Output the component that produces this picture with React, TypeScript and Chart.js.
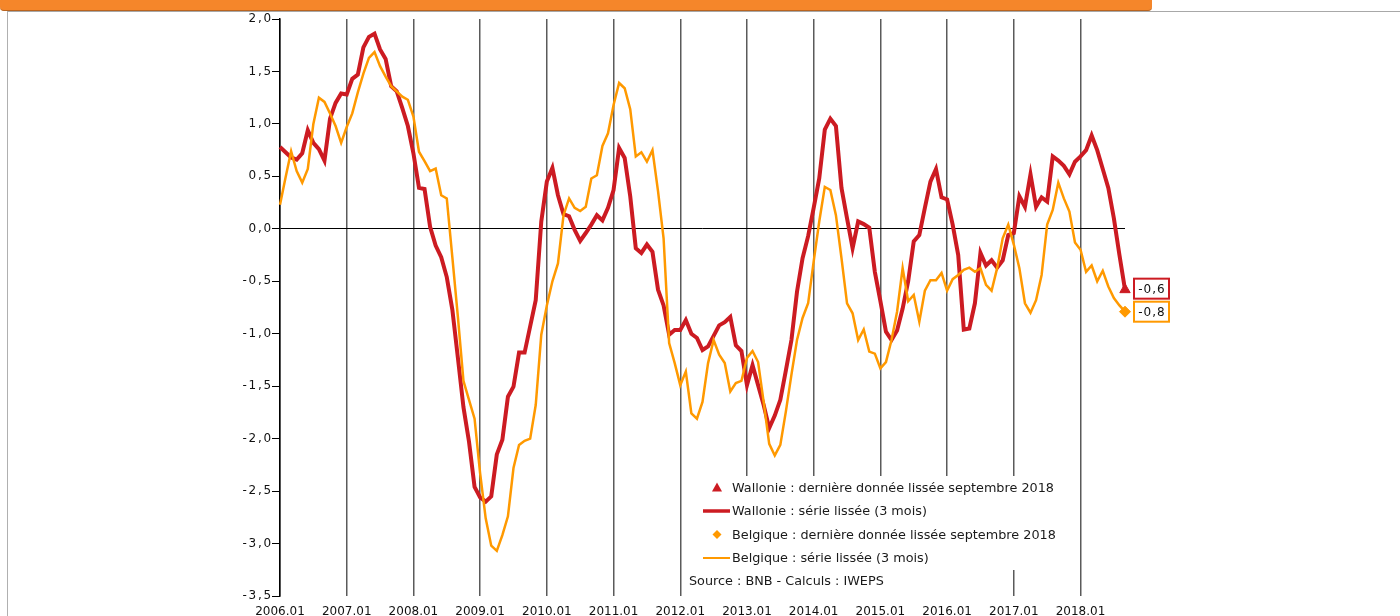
import React, { useEffect, useRef } from "react";
import { Chart, registerables } from "chart.js";

Chart.register(...registerables);

const wallonie: number[] = [
  0.78, 0.73, 0.68, 0.66, 0.72, 0.94, 0.82, 0.76, 0.65, 1.05,
  1.2, 1.29, 1.28, 1.43, 1.47, 1.73, 1.83, 1.86, 1.71, 1.62,
  1.36, 1.31, 1.15, 0.98, 0.72, 0.39, 0.38, 0.02, -0.16, -0.27,
  -0.46, -0.77, -1.23, -1.7, -2.03, -2.46, -2.56, -2.6, -2.55, -2.15,
  -2.01, -1.6, -1.505, -1.18, -1.18, -0.93, -0.68, 0.07, 0.45, 0.58,
  0.32, 0.14, 0.12, -0.01, -0.115, -0.04, 0.04, 0.13, 0.08, 0.2,
  0.37, 0.77, 0.675, 0.31, -0.185, -0.23, -0.15, -0.22, -0.58, -0.73,
  -1.01, -0.965, -0.965, -0.87, -1.0, -1.04, -1.155, -1.12, -1.02, -0.92,
  -0.89, -0.84, -1.11, -1.165, -1.49, -1.3, -1.49, -1.68, -1.9, -1.78,
  -1.63, -1.35, -1.06, -0.6, -0.28, -0.07, 0.2, 0.48, 0.945, 1.05,
  0.98, 0.39, 0.1, -0.185, 0.07, 0.045, 0.01, -0.41, -0.69, -0.98,
  -1.06, -0.97, -0.76, -0.5, -0.12, -0.06, 0.2, 0.45, 0.57, 0.3,
  0.28, 0.04, -0.25, -0.96, -0.95, -0.71, -0.23, -0.35, -0.3, -0.37,
  -0.3, -0.06, -0.04, 0.31, 0.21, 0.52, 0.21, 0.3, 0.26, 0.69,
  0.65, 0.6, 0.52, 0.64, 0.69, 0.75, 0.89, 0.75, 0.57, 0.39,
  0.1, -0.25, -0.58,
];

const belgique: number[] = [
  0.23, 0.49, 0.74, 0.55, 0.44, 0.57, 1.0, 1.25, 1.21, 1.1,
  0.98, 0.82, 0.97, 1.1, 1.3, 1.48, 1.63, 1.685, 1.55, 1.45,
  1.36, 1.31, 1.26, 1.23, 1.07, 0.735, 0.645, 0.55, 0.575, 0.32,
  0.29, -0.27, -0.84, -1.45, -1.63, -1.81, -2.33, -2.76, -3.02, -3.07,
  -2.92, -2.74, -2.28, -2.06, -2.02, -2.0, -1.68, -1.01, -0.73, -0.5,
  -0.33, 0.13, 0.29, 0.2, 0.17, 0.21, 0.48, 0.51, 0.79, 0.91,
  1.18, 1.39, 1.34, 1.14, 0.69, 0.73, 0.64, 0.75, 0.36, -0.09,
  -1.09, -1.28, -1.49, -1.36, -1.76, -1.81, -1.65, -1.28, -1.06, -1.2,
  -1.28, -1.55, -1.47, -1.45, -1.23, -1.165, -1.27, -1.65, -2.05, -2.16,
  -2.06, -1.74, -1.39, -1.06, -0.85, -0.71, -0.31, 0.07, 0.4, 0.37,
  0.13, -0.28, -0.71, -0.805, -1.06, -0.96, -1.17, -1.19, -1.33, -1.27,
  -1.06, -0.79, -0.375, -0.69, -0.63, -0.885, -0.59, -0.49, -0.49, -0.42,
  -0.59, -0.48, -0.44, -0.39, -0.37, -0.41, -0.375, -0.535, -0.59, -0.375,
  -0.09, 0.04, -0.15, -0.375, -0.71, -0.8, -0.68, -0.44, 0.04, 0.18,
  0.44, 0.29, 0.165, -0.13, -0.2, -0.41, -0.35, -0.5, -0.4, -0.55,
  -0.66, -0.73, -0.79,
];

const startYear = 2006;
const monthLabels: string[] = wallonie.map(
  (_, i) => `${startYear + Math.floor(i / 12)}.${String((i % 12) + 1).padStart(2, "0")}`
);

const lastLabels: string[] = ["-0,6", "-0,8"];

const legendItems: string[] = [
  "Wallonie : dernière donnée lissée septembre 2018",
  "Wallonie : série lissée (3 mois)",
  "Belgique : dernière donnée lissée septembre 2018",
  "Belgique : série lissée (3 mois)",
];
const sourceText = "Source : BNB - Calculs : IWEPS";

const RED = "#CC1B22";
const ORANGE = "#FF9900";
const FONT = "DejaVu Sans";

const lastOnly = (arr: number[]) => arr.map((v, i) => (i === arr.length - 1 ? v : null));

export default function App() {
  const canvasRef = useRef<HTMLCanvasElement | null>(null);

  useEffect(() => {
    document.body.style.margin = "0";
    const canvas = canvasRef.current;
    if (!canvas) return;

    const overlay = {
      id: "overlay",
      afterLayout(chart: any) {
        const ys = chart.scales.y;
        if (ys && !ys.__patched) {
          const orig = ys.drawLabels.bind(ys);
          ys.drawLabels = (area: any) => {
            const c = chart.ctx;
            const prev = c.letterSpacing;
            c.letterSpacing = "1.8px";
            orig(area);
            c.letterSpacing = prev || "0px";
          };
          ys.__patched = true;
        }
      },
      beforeDatasetsDraw(chart: any) {
        const ctx = chart.ctx;
        ctx.save();
        ctx.fillStyle = "#fff";
        ctx.fillRect(683, 476, 393, 94);
        ctx.fillRect(683, 569, 327, 28);
        ctx.restore();
      },
      afterDraw(chart: any) {
        const ctx = chart.ctx;
        ctx.save();
        const xs = chart.scales.x;
        const ys = chart.scales.y;
        const n = wallonie.length - 1;
        const boxes = [
          { v: wallonie[n], c: RED, t: lastLabels[0], dy: -1 },
          { v: belgique[n], c: ORANGE, t: lastLabels[1], dy: 0 },
        ];
        ctx.font = `12px "${FONT}"`;
        ctx.textBaseline = "middle";
        ctx.textAlign = "center";
        boxes.forEach((b) => {
          const px = xs.getPixelForValue(n);
          const py = ys.getPixelForValue(b.v) + b.dy;
          const bx = px + 9;
          const bw = 35;
          const bh = 20;
          ctx.fillStyle = "#fff";
          ctx.fillRect(bx, py - bh / 2, bw, bh);
          ctx.strokeStyle = b.c;
          ctx.lineWidth = 2;
          ctx.strokeRect(bx, py - bh / 2, bw, bh);
          ctx.fillStyle = "#111";
          ctx.letterSpacing = "1px";
          ctx.fillText(b.t, bx + bw / 2 + 0.5, py + 1);
          ctx.letterSpacing = "0px";
        });

        // legend
        ctx.textAlign = "left";
        ctx.font = `12.8px "${FONT}"`;
        const tx = 732;
        const rows = [487.5, 511, 534.5, 558];
        ctx.fillStyle = RED;
        ctx.beginPath();
        ctx.moveTo(717, rows[0] - 5);
        ctx.lineTo(722, rows[0] + 4);
        ctx.lineTo(712, rows[0] + 4);
        ctx.closePath();
        ctx.fill();
        ctx.strokeStyle = RED;
        ctx.lineWidth = 3.5;
        ctx.beginPath();
        ctx.moveTo(703, rows[1]);
        ctx.lineTo(730, rows[1]);
        ctx.stroke();
        ctx.fillStyle = ORANGE;
        ctx.beginPath();
        ctx.moveTo(717, rows[2] - 4.5);
        ctx.lineTo(721.5, rows[2]);
        ctx.lineTo(717, rows[2] + 4.5);
        ctx.lineTo(712.5, rows[2]);
        ctx.closePath();
        ctx.fill();
        ctx.strokeStyle = ORANGE;
        ctx.lineWidth = 2;
        ctx.beginPath();
        ctx.moveTo(703, rows[3]);
        ctx.lineTo(730, rows[3]);
        ctx.stroke();

        ctx.fillStyle = "#1a1a1a";
        legendItems.forEach((t, i) => ctx.fillText(t, tx, rows[i] + 1));
        ctx.fillText(sourceText, 689, 582);
        ctx.restore();
      },
    };

    const chart = new Chart(canvas, {
      type: "line",
      data: {
        labels: monthLabels,
        datasets: [
          {
            label: legendItems[0],
            data: lastOnly(wallonie),
            showLine: false,
            pointStyle: "triangle",
            pointRadius: 6,
            backgroundColor: RED,
            borderColor: RED,
            borderWidth: 1,
            order: 0,
          },
          {
            label: legendItems[2],
            data: lastOnly(belgique),
            showLine: false,
            pointStyle: "rectRot",
            pointRadius: 5.5,
            backgroundColor: ORANGE,
            borderColor: ORANGE,
            borderWidth: 1,
            order: 0,
          },
          {
            label: legendItems[3],
            data: belgique,
            borderColor: ORANGE,
            borderWidth: 2.5,
            pointRadius: 0,
            tension: 0,
            fill: false,
            order: 1,
          },
          {
            label: legendItems[1],
            data: wallonie,
            borderColor: RED,
            borderWidth: 4,
            pointRadius: 0,
            tension: 0,
            fill: false,
            order: 2,
          },
        ],
      },
      options: {
        responsive: false,
        animation: false,
        devicePixelRatio: 1,
        layout: { padding: { left: 0, right: 275, top: 19, bottom: 0 } },
        plugins: { legend: { display: false }, tooltip: { enabled: false } },
        scales: {
          x: {
            type: "category",
            offset: false,
            afterFit: (s: any) => {
              s.height = 44;
            },
            grid: {
              drawTicks: false,
              color: (c: any) => (c.index % 12 === 0 ? "#5a5a5a" : "rgba(0,0,0,0)"),
              lineWidth: 1.5,
            },
            border: { display: false },
            ticks: {
              autoSkip: false,
              maxRotation: 0,
              padding: 9,
              color: "#111",
              font: { family: FONT, size: 12 },
              callback: (_v: any, idx: number) => (idx % 12 === 0 ? monthLabels[idx] : ""),
            },
          },
          y: {
            min: -3.5,
            max: 2,
            afterFit: (s: any) => {
              s.width = 280;
            },
            grid: {
              color: (c: any) => (c.tick && c.tick.value === 0 ? "#000" : "rgba(0,0,0,0)"),
              lineWidth: 1,
              tickColor: "#000",
              tickLength: 8,
            },
            border: { display: true, color: "#000", width: 1.5 },
            ticks: {
              stepSize: 0.5,
              padding: -1,
              color: "#111",
              font: { family: FONT, size: 12 },
              callback: (v: any) => Number(v).toFixed(1).replace(".", ","),
            },
          },
        },
      },
      plugins: [overlay],
    });

    return () => chart.destroy();
  }, []);

  return (
    <div style={{ position: "relative", width: 1400, height: 616, overflow: "hidden", background: "#fff" }}>
      <div
        style={{
          position: "absolute",
          left: 7,
          top: 11,
          right: 0,
          bottom: -10,
          borderLeft: "1px solid #b0b0b0",
          borderTop: "1px solid #a8a8a8",
        }}
      />
      <div
        style={{
          position: "absolute",
          left: 0,
          top: -6,
          width: 1152,
          height: 16,
          background: "#F5862A",
          borderBottom: "1px solid #b86420",
          borderRadius: "0 0 4px 4px",
        }}
      />
      <canvas
        ref={canvasRef}
        width={1400}
        height={640}
        style={{ position: "absolute", left: 0, top: 0, width: 1400, height: 640 }}
      />
    </div>
  );
}
